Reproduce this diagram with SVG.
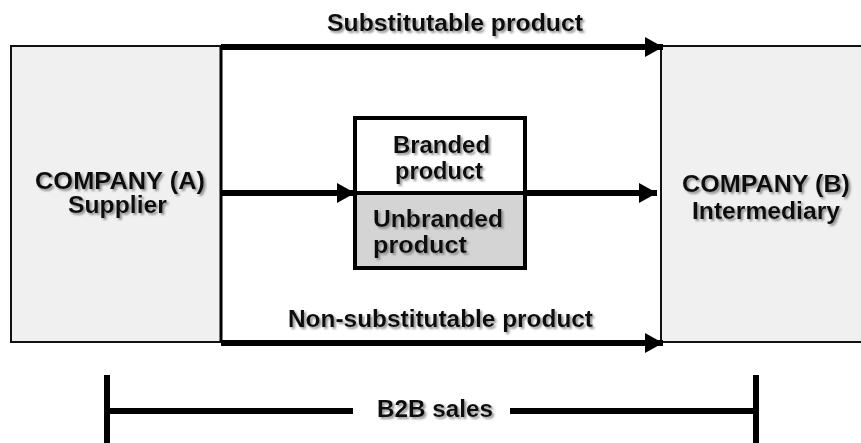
<svg xmlns="http://www.w3.org/2000/svg" width="861" height="443" viewBox="0 0 861 443">
<defs>
  <filter id="sh" x="-10%" y="-30%" width="130%" height="170%">
    <feDropShadow dx="2" dy="2" stdDeviation="1.2" flood-color="#777" flood-opacity="0.8"/>
  </filter>
  <marker id="ah" markerUnits="userSpaceOnUse" markerWidth="20" markerHeight="22" refX="18" refY="11" orient="auto">
    <polygon points="0,1 18,11 0,21" fill="#000"/>
  </marker>
  <style>
    .lbl{font-family:"Liberation Sans",Arial,sans-serif;font-weight:bold;font-size:23px;fill:#111;filter:url(#sh)}
    .co{fill:#f0f0f0;stroke:#111;stroke-width:2}
    .arr{stroke:#000;stroke-width:6;fill:none;marker-end:url(#ah)}
    .br{stroke:#000;stroke-width:6;fill:none}
  </style>
</defs>
<rect width="861" height="443" fill="#fff"/>
<g id="companyA">
  <rect class="co" x="11" y="46" width="210" height="296"/>
  <text class="lbl" x="35" y="189" textLength="170" lengthAdjust="spacingAndGlyphs">COMPANY (A)</text>
  <text class="lbl" x="68" y="213" textLength="99" lengthAdjust="spacingAndGlyphs">Supplier</text>
</g>
<g id="companyB">
  <rect class="co" x="661" y="46" width="220" height="296"/>
  <text class="lbl" x="682" y="192" textLength="168" lengthAdjust="spacingAndGlyphs">COMPANY (B)</text>
  <text class="lbl" x="692" y="219" textLength="148" lengthAdjust="spacingAndGlyphs">Intermediary</text>
</g>
<g id="product">
  <rect x="355" y="118" width="170" height="75" fill="#fff" stroke="#000" stroke-width="4"/>
  <rect x="355" y="193" width="170" height="75" fill="#d4d4d4" stroke="#000" stroke-width="4"/>
  <text class="lbl" x="393" y="153" textLength="97" lengthAdjust="spacingAndGlyphs">Branded</text>
  <text class="lbl" x="395" y="179" textLength="88" lengthAdjust="spacingAndGlyphs">product</text>
  <text class="lbl" x="373" y="227" textLength="130" lengthAdjust="spacingAndGlyphs">Unbranded</text>
  <text class="lbl" x="373" y="253" textLength="94" lengthAdjust="spacingAndGlyphs">product</text>
</g>
<g id="connectors">
  <line x1="221" y1="46" x2="221" y2="342" stroke="#000" stroke-width="3"/>
  <line class="arr" x1="221" y1="47" x2="663" y2="47"/>
  <line class="arr" x1="221" y1="193" x2="355" y2="193"/>
  <line class="arr" x1="525" y1="193" x2="657" y2="193"/>
  <line class="arr" x1="221" y1="343" x2="663" y2="343"/>
  <text class="lbl" x="327" y="31" textLength="256" lengthAdjust="spacingAndGlyphs">Substitutable product</text>
  <text class="lbl" x="288" y="327" textLength="305" lengthAdjust="spacingAndGlyphs">Non-substitutable product</text>
</g>
<g id="b2b">
  <line class="br" x1="107" y1="375" x2="107" y2="443"/>
  <line class="br" x1="756" y1="375" x2="756" y2="443"/>
  <line class="br" x1="107" y1="411" x2="353" y2="411"/>
  <line class="br" x1="510" y1="411" x2="756" y2="411"/>
  <text class="lbl" x="377" y="417" textLength="116" lengthAdjust="spacingAndGlyphs">B2B sales</text>
</g>
</svg>
